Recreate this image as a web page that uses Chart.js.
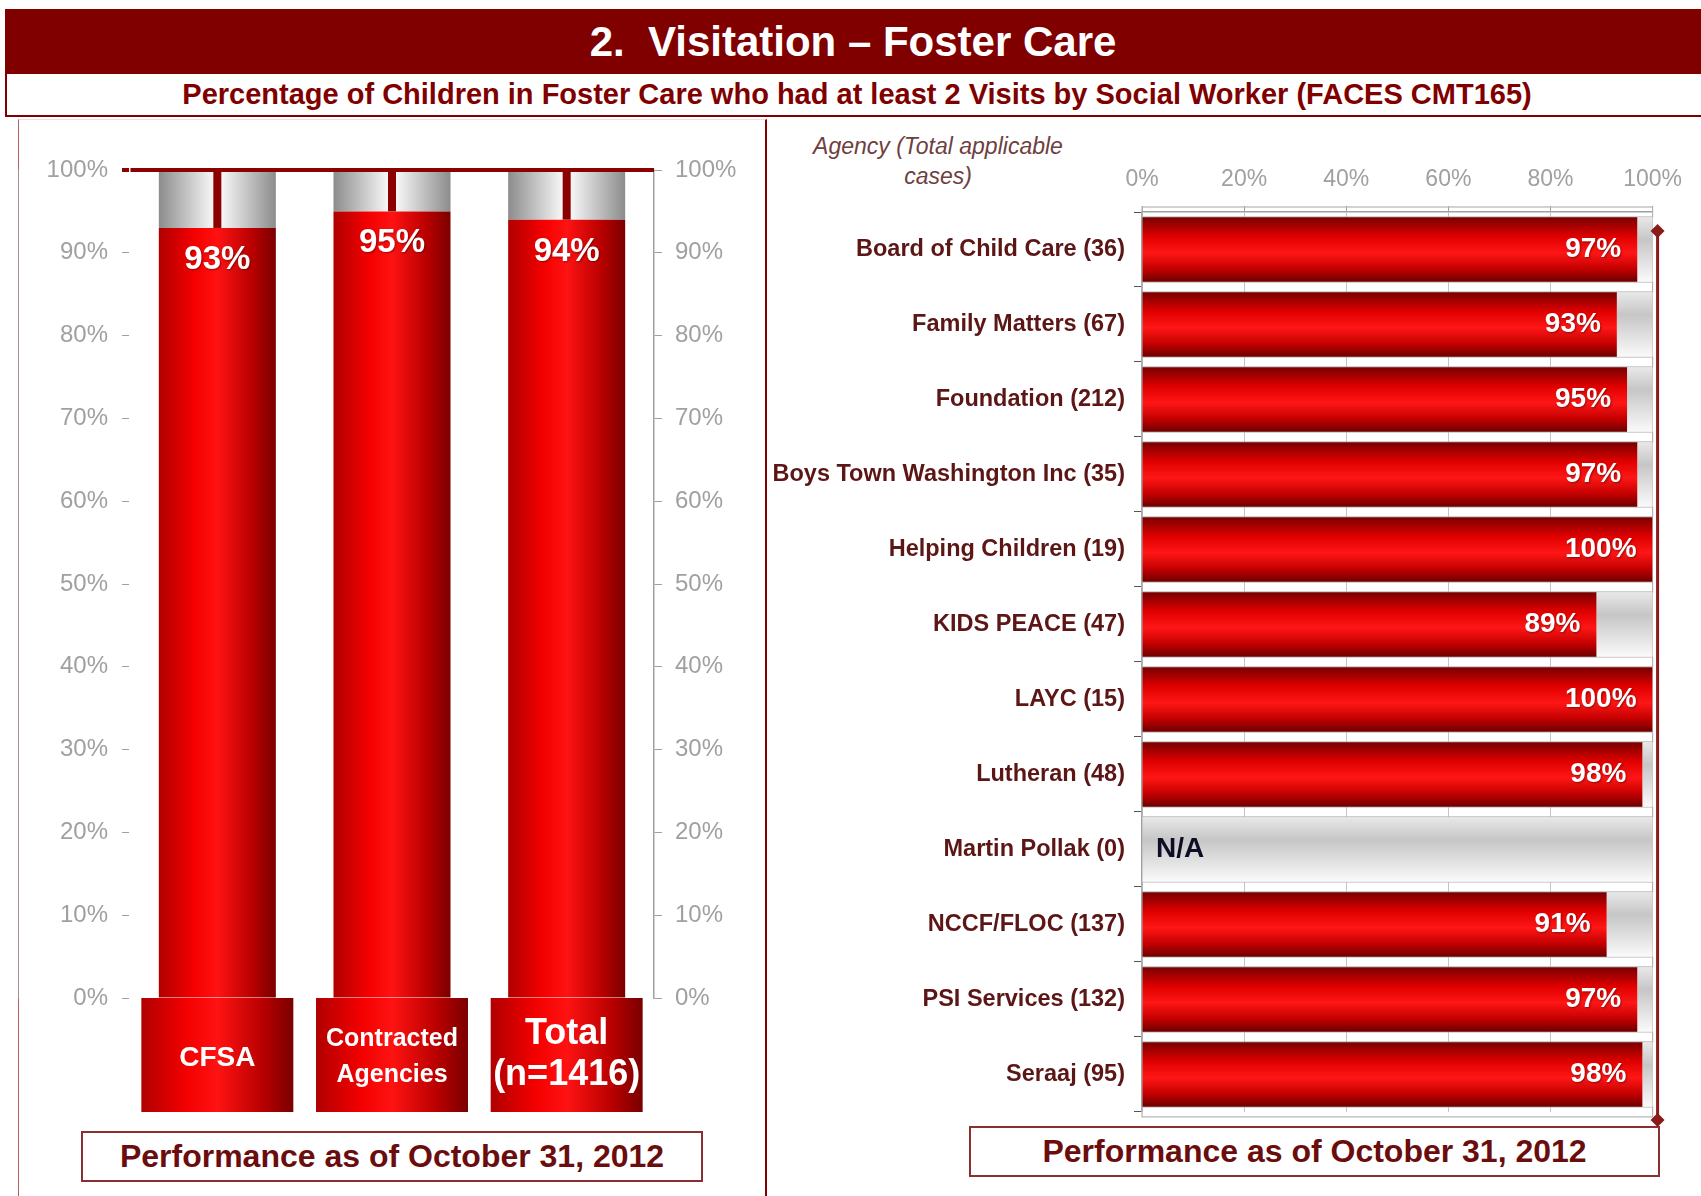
<!DOCTYPE html>
<html lang="en">
<head>
  <meta charset="UTF-8" />
  <title>Visitation – Foster Care</title>
  <script src="https://cdn.jsdelivr.net/npm/chart.js"></script>
  <style>
    body { margin: 0; background: #fff; font-family: "Liberation Sans", Arial, sans-serif; }
    #page { position: relative; width: 1701px; height: 1196px; overflow: hidden; }
    .header { position: absolute; left: 5px; top: 9px; width: 1696px; height: 65px; background: #800000;
      color: #fff; font-weight: bold; font-size: 42px; line-height: 65px; text-align: center; }
    .sub { position: absolute; left: 5px; top: 74px; width: 1700px; height: 41px; border: 2px solid #800000; border-top: 0;
      box-sizing: content-box; color: #800000; font-weight: bold; font-size: 29px; line-height: 41px; text-align: center; }
    .panelL { position: absolute; left: 18px; top: 119px; width: 746px; height: 1100px;
      border-left: 1px solid #b06060; border-top: 1px solid #f0dcdc; border-right: 2px solid #800000; }
    .chartbox { position: absolute; z-index: 2; }
    .perf { position: absolute; border: 2px solid #8b3030; color: #6b0d0d; font-weight: bold; font-size: 32px;
      text-align: center; box-sizing: border-box; background: #fff; }
    .agency { position: absolute; left: 778px; top: 131px; width: 320px; text-align: center; font-style: italic;
      font-size: 23px; line-height: 30px; color: #6e4040; }
  </style>
</head>
<body>
<div id="page">
  <div class="header">2.&nbsp; Visitation – Foster Care</div>
  <div class="sub">Percentage of Children in Foster Care who had at least 2 Visits by Social Worker (FACES CMT165)</div>
  <div class="panelL"></div>

  <div class="perf" style="left:81px; top:1131px; width:622px; height:51px; line-height:47px;">Performance as of October 31, 2012</div>
  <div class="perf" style="left:969px; top:1126px; width:691px; height:51px; line-height:47px;">Performance as of October 31, 2012</div>
  <div class="agency">Agency (Total applicable<br>cases)</div>

  <div class="chartbox" style="left:18px; top:130px; width:748px; height:990px;">
    <canvas id="groupChart"></canvas>
  </div>
  <div class="chartbox" style="left:767px; top:125px; width:928px; height:1010px;">
    <canvas id="agencyChart"></canvas>
  </div>
</div>

<script>
  // left chart
  var groups = [['CFSA'], ['Contracted', 'Agencies'], ['Total', '(n=1416)']];
  var groupValues = [93, 95, 94];
  var groupGaps = [7, 5, 6];
  var groupLabelSizes = [28, 25, 36];
  var groupLineHeights = [1.2, 1.45, 1.15];

  // right chart
  var agencies = [
    'Board of Child Care (36)', 'Family Matters (67)', 'Foundation (212)', 'Boys Town Washington Inc (35)',
    'Helping Children (19)', 'KIDS PEACE (47)', 'LAYC (15)', 'Lutheran (48)', 'Martin Pollak (0)',
    'NCCF/FLOC (137)', 'PSI Services (132)', 'Seraaj (95)'
  ];
  var agencyValues = [97, 93, 95, 97, 100, 89, 100, 98, null, 91, 97, 98];
  var agencyGaps = [3, 7, 5, 3, 0, 11, 0, 2, 100, 9, 3, 2];

  var pctTicks = function (v) { return v + '%'; };

  Chart.defaults.font.family = '"Liberation Sans", Arial, sans-serif';
  Chart.defaults.animation = false;

  var BAR_PCT = 0.67;
  var ROW_PCT = 0.86;

  function columnGradient(c, stops) {
    var chart = c.chart;
    if (!chart.chartArea) return stops[0][1];
    var x = chart.scales.x;
    var half = x.width / chart.data.labels.length * BAR_PCT / 2;
    var cx = x.getPixelForValue(c.dataIndex);
    var g = chart.ctx.createLinearGradient(cx - half, 0, cx + half, 0);
    stops.forEach(function (s) { g.addColorStop(s[0], s[1]); });
    return g;
  }

  function rowGradient(c, stops) {
    var chart = c.chart;
    if (!chart.chartArea) return stops[0][1];
    var y = chart.scales.y;
    var half = y.height / chart.data.labels.length * ROW_PCT / 2;
    var cy = y.getPixelForValue(c.dataIndex);
    var g = chart.ctx.createLinearGradient(0, cy - half, 0, cy + half);
    stops.forEach(function (s) { g.addColorStop(s[0], s[1]); });
    return g;
  }

  var redCols = [[0, '#b00000'], [0.3, '#f40000'], [0.5, '#ff1212'], [0.8, '#b80000'], [1, '#7a0000']];
  var grayCols = [[0, '#8c8c8c'], [0.46, '#f6f6f6'], [0.5, '#ffffff'], [0.54, '#f6f6f6'], [1, '#8c8c8c']];
  var redRows = [[0, '#780000'], [0.3, '#e00000'], [0.55, '#ff1616'], [0.8, '#c40000'], [1, '#6e0000']];
  var grayRows = [[0, '#e8e8e8'], [0.35, '#c6c6c6'], [1, '#fafafa']];

  // red boxes under the columns, then value text and the dark red stems
  var groupDeco = {
    id: 'groupDeco',
    beforeDraw: function (chart) {
      var ctx = chart.ctx;
      var x = chart.scales.x;
      var w = x.width / chart.data.labels.length * 0.87;
      ctx.save();
      for (var i = 0; i < chart.data.labels.length; i++) {
        var cx = x.getPixelForValue(i);
        var g = ctx.createLinearGradient(cx - w / 2, 0, cx + w / 2, 0);
        redCols.forEach(function (s) { g.addColorStop(s[0], s[1]); });
        ctx.fillStyle = g;
        ctx.fillRect(cx - w / 2, x.top, w, x.bottom - x.top);
      }
      ctx.restore();
    },
    afterDatasetsDraw: function (chart) {
      var ctx = chart.ctx;
      ctx.save();
      chart.getDatasetMeta(1).data.forEach(function (el) {
        ctx.fillStyle = '#8b0000';
        ctx.fillRect(el.x - 4, el.y, 8, el.base - el.y);
      });
      ctx.font = 'bold 33px "Liberation Sans", Arial, sans-serif';
      ctx.fillStyle = '#fff';
      ctx.textAlign = 'center';
      ctx.textBaseline = 'middle';
      ctx.shadowColor = 'rgba(60,0,0,0.5)';
      ctx.shadowBlur = 2;
      ctx.shadowOffsetX = 1;
      ctx.shadowOffsetY = 1;
      chart.getDatasetMeta(0).data.forEach(function (el, i) {
        ctx.fillText(groupValues[i] + '%', el.x, el.y + 32);
      });
      ctx.restore();
    }
  };

  new Chart(document.getElementById('groupChart'), {
    type: 'bar',
    data: {
      labels: groups,
      datasets: [{
        label: 'Visited',
        data: groupValues,
        backgroundColor: function (c) { return columnGradient(c, redCols); },
        barPercentage: BAR_PCT,
        categoryPercentage: 1
      }, {
        label: 'Remaining',
        data: groupGaps,
        backgroundColor: function (c) { return columnGradient(c, grayCols); },
        barPercentage: BAR_PCT,
        categoryPercentage: 1
      }]
    },
    options: {
      responsive: true,
      maintainAspectRatio: false,
      layout: { padding: { top: 40, bottom: 8, left: 0, right: 0 } },
      plugins: { legend: { display: false }, tooltip: { enabled: false } },
      scales: {
        x: {
          stacked: true,
          grid: { display: false, drawTicks: false },
          border: { display: false },
          afterFit: function (s) { s.height = 114; },
          ticks: {
            color: '#fff',
            padding: 36,
            crossAlign: 'center',
            maxRotation: 0,
            font: function (c) {
              return { size: groupLabelSizes[c.index], weight: 'bold', lineHeight: groupLineHeights[c.index] };
            }
          }
        },
        y: {
          stacked: true,
          min: 0, max: 100,
          afterFit: function (s) { s.width = 112; },
          border: { color: '#a0a0a0', width: 1.5 },
          grid: {
            z: 1,
            drawOnChartArea: true,
            tickLength: 8,
            color: function (c) { return c.tick && c.tick.value === 100 ? '#8b0000' : 'rgba(0,0,0,0)'; },
            lineWidth: function (c) { return c.tick && c.tick.value === 100 ? 4 : 1; },
            tickColor: function (c) { return c.tick && c.tick.value === 100 ? '#8b0000' : '#a0a0a0'; },
            tickWidth: function (c) { return c.tick && c.tick.value === 100 ? 4 : 1; }
          },
          ticks: { stepSize: 10, padding: 14, color: '#a0a0a0', font: { size: 24 }, callback: pctTicks }
        },
        y2: {
          position: 'right',
          min: 0, max: 100,
          afterFit: function (s) { s.width = 112; },
          border: { color: '#a0a0a0', width: 1.5 },
          grid: { drawOnChartArea: false, tickLength: 8, tickColor: '#a0a0a0' },
          ticks: { stepSize: 10, padding: 13, color: '#a0a0a0', font: { size: 24 }, callback: pctTicks }
        }
      }
    },
    plugins: [groupDeco]
  });

  // strips between rows, value text, 100% target line
  var agencyDeco = {
    id: 'agencyDeco',
    beforeDatasetsDraw: function (chart) {
      var ctx = chart.ctx;
      var x = chart.scales.x;
      var y = chart.scales.y;
      var rowH = y.height / chart.data.labels.length;
      var x0 = x.getPixelForValue(0);
      var x1 = x.getPixelForValue(100);
      ctx.save();
      ctx.strokeStyle = '#b4b4b4';
      ctx.lineWidth = 1.2;
      for (var i = 0; i <= chart.data.labels.length; i++) {
        var yb = y.top + i * rowH;
        ctx.strokeRect(x0, yb - 5, x1 - x0, 10);
      }
      ctx.restore();
    },
    afterDatasetsDraw: function (chart) {
      var ctx = chart.ctx;
      var x = chart.scales.x;
      var area = chart.chartArea;
      ctx.save();
      ctx.font = 'bold 28px "Liberation Sans", Arial, sans-serif';
      ctx.textBaseline = 'middle';
      chart.getDatasetMeta(1).data.forEach(function (el, i) {
        var v = agencyValues[i];
        if (v === null) {
          ctx.fillStyle = '#0d0d26';
          ctx.textAlign = 'left';
          ctx.shadowColor = 'rgba(0,0,0,0)';
          ctx.fillText('N/A', x.getPixelForValue(0) + 14, el.y);
        } else {
          ctx.fillStyle = '#fff';
          ctx.textAlign = 'right';
          ctx.shadowColor = 'rgba(60,0,0,0.5)';
          ctx.shadowBlur = 2;
          ctx.shadowOffsetX = 1;
          ctx.shadowOffsetY = 1;
          ctx.fillText(v + '%', x.getPixelForValue(v) - 16, el.y);
        }
      });
      ctx.restore();

      var tx = x.getPixelForValue(100) + 5;
      var t0 = area.top + 19;
      var t1 = area.bottom + 8;
      ctx.save();
      ctx.strokeStyle = '#8b1a1a';
      ctx.fillStyle = '#8b1a1a';
      ctx.lineWidth = 3;
      ctx.beginPath();
      ctx.moveTo(tx, t0);
      ctx.lineTo(tx, t1);
      ctx.stroke();
      [t0, t1].forEach(function (ty) {
        ctx.beginPath();
        ctx.moveTo(tx, ty - 7);
        ctx.lineTo(tx + 7, ty);
        ctx.lineTo(tx, ty + 7);
        ctx.lineTo(tx - 7, ty);
        ctx.closePath();
        ctx.fill();
      });
      ctx.restore();
    }
  };

  new Chart(document.getElementById('agencyChart'), {
    type: 'bar',
    data: {
      labels: agencies,
      datasets: [{
        label: 'Visited',
        data: agencyValues,
        backgroundColor: function (c) { return rowGradient(c, redRows); },
        barPercentage: ROW_PCT,
        categoryPercentage: 1
      }, {
        label: 'Remaining',
        data: agencyGaps,
        backgroundColor: function (c) { return rowGradient(c, grayRows); },
        barPercentage: ROW_PCT,
        categoryPercentage: 1
      }]
    },
    options: {
      indexAxis: 'y',
      responsive: true,
      maintainAspectRatio: false,
      layout: { padding: { top: 10, bottom: 18, left: 0, right: 42 } },
      plugins: { legend: { display: false }, tooltip: { enabled: false } },
      scales: {
        x: {
          position: 'top',
          stacked: true,
          min: 0, max: 100,
          afterFit: function (s) { s.height = 77; },
          border: { color: '#a0a0a0', width: 1.5 },
          grid: { color: '#c4c4c4', tickLength: 6, tickColor: '#a0a0a0' },
          ticks: { stepSize: 20, padding: 13, color: '#a0a0a0', font: { size: 23 }, callback: pctTicks }
        },
        y: {
          stacked: true,
          afterFit: function (s) { s.width = 375; },
          border: { color: '#a0a0a0', width: 1.5 },
          grid: { drawOnChartArea: false, tickLength: 8, tickColor: '#555' },
          ticks: { padding: 9, color: '#5c1616', font: { size: 23.5, weight: 'bold' } }
        }
      }
    },
    plugins: [agencyDeco]
  });
</script>
</body>
</html>
